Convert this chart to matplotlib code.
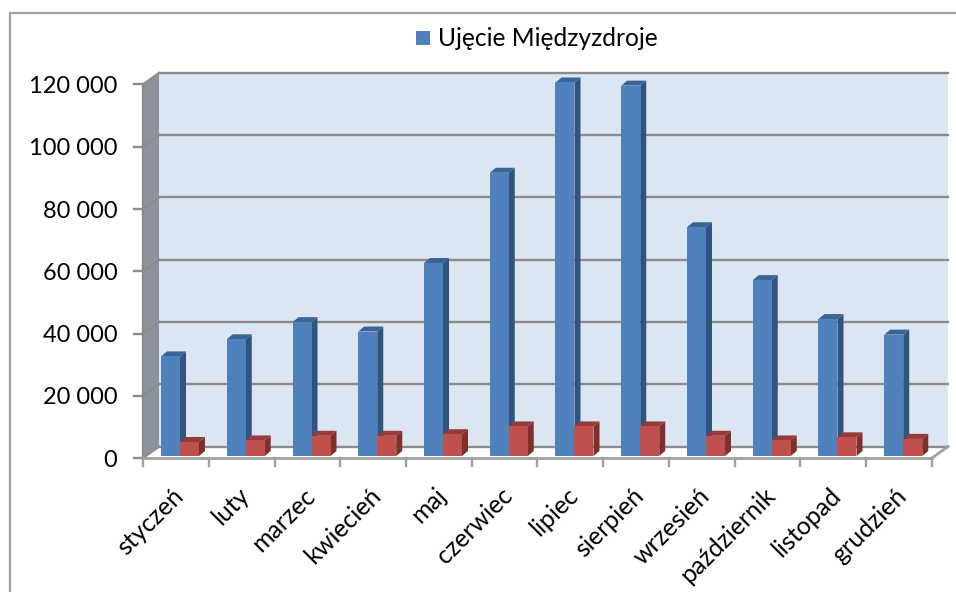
import matplotlib
matplotlib.use("Agg")
import matplotlib.pyplot as plt
from matplotlib.patches import Polygon, Rectangle

months = ["styczeń", "luty", "marzec", "kwiecień", "maj", "czerwiec", "lipiec",
          "sierpień", "wrzesień", "październik", "listopad", "grudzień"]
blue_values = [32000, 37500, 43000, 40000, 62000, 91000, 120000, 119000, 73500, 56500, 44000, 39000]
red_values = [4500, 5000, 6500, 6500, 7000, 9500, 9500, 9500, 6500, 5000, 6000, 5500]
y_ticks = [0, 20000, 40000, 60000, 80000, 100000, 120000]
y_labels = ["0", "20 000", "40 000", "60 000", "80 000", "100 000", "120 000"]

W, H = 956, 592
plt.rcParams["font.family"] = ["Lato", "DejaVu Sans"]

fig = plt.figure(figsize=(W / 100, H / 100), dpi=100)
frame = Rectangle((10 / W, -0.1), 2, (H - 13) / H + 0.1, transform=fig.transFigure,
                  fc="none", ec="#a0a0a0", lw=1.6)
fig.add_artist(frame)

# front edge of the box: x 143-932, y 458-84.5 in pixels
ax = fig.add_axes([143 / W, 1 - 458 / H, 789 / W, 373.5 / H])
ax.set_xlim(0, 12)
ax.set_ylim(0, 120000)
ax.axis("off")

px_x = 12 / 789
px_y = 120000 / 373.5
depth_x = 16 * px_x
depth_y = 11.5 * px_y
grid_col = "#8c8c8c"


def poly(pts, fc, z=1):
    ax.add_patch(Polygon(pts, closed=True, fc=fc, ec="none", lw=0, zorder=z, clip_on=False))


top = y_ticks[-1]
# back wall, floor and left wall
poly([(depth_x, depth_y), (12 + depth_x, depth_y), (12 + depth_x, top + depth_y), (depth_x, top + depth_y)], "#dce6f2")
poly([(0, 0), (12, 0), (12 + depth_x, depth_y), (depth_x, depth_y)], "white")
poly([(0, 0), (depth_x, depth_y), (depth_x, top + depth_y), (0, top)], "#8b949c")

for v in y_ticks:
    ax.plot([depth_x, 12 + depth_x], [v + depth_y] * 2, color=grid_col, lw=1.7, zorder=2, clip_on=False)
    ax.plot([0, depth_x], [v, v + depth_y], color=grid_col, lw=1.7, zorder=2, clip_on=False)
    ax.plot([-9 * px_x, 0], [v, v], color=grid_col, lw=1.7, zorder=2, clip_on=False)
ax.plot([0, 0], [0, top], color=grid_col, lw=1.7, zorder=2, clip_on=False)
ax.plot([0, 12], [0, 0], color="#a0a0a0", lw=2, zorder=2, clip_on=False)
ax.plot([12, 12 + depth_x], [0, depth_y], color="#a0a0a0", lw=2, zorder=2, clip_on=False)
for i in range(13):
    ax.plot([i, i], [0, -8 * px_y], color="#a0a0a0", lw=1.7, zorder=2, clip_on=False)


def bar3d(x, w, val, front, side, roof):
    base = 2 * px_y
    dx, dy = 6 * px_x, 5 * px_y
    y1 = base + val
    poly([(x + w, base), (x + w + dx, base + dy), (x + w + dx, y1 + dy), (x + w, y1)], side, z=3)
    poly([(x, y1), (x + w, y1), (x + w + dx, y1 + dy), (x + dx, y1 + dy)], roof, z=3)
    ax.add_patch(Rectangle((x, base), w, val, fc=front, ec="none", zorder=4, clip_on=False))


bar_w = 19 * px_x
for i, (b, r) in enumerate(zip(blue_values, red_values)):
    bar3d(i + 18 * px_x, bar_w, b, "#4f81bd", "#2f5480", "#3a6496")
    bar3d(i + 18 * px_x + bar_w, bar_w, r, "#c0504d", "#7f2f2d", "#963b39")

for v, lab in zip(y_ticks, y_labels):
    ax.annotate(lab, xy=(0, v), xytext=(-18.5, -1.5), textcoords="offset points",
                ha="right", va="center", fontsize=17, color="black")

for i, m in enumerate(months):
    ax.annotate(m, xy=(i + 0.5, 0), xytext=(-3, -18.5), textcoords="offset points",
                rotation=45, ha="right", va="top", rotation_mode="anchor", fontsize=18, color="black")

# legend
fig.add_artist(Rectangle((416 / W, 1 - 45 / H), 14 / W, 14 / H, transform=fig.transFigure, fc="#4f81bd", ec="none"))
fig.text(438 / W, 1 - 39 / H, "Ujęcie Międzyzdroje", ha="left", va="center", fontsize=17.7, color="black")

fig.savefig("out.png", dpi=100, facecolor="white")
